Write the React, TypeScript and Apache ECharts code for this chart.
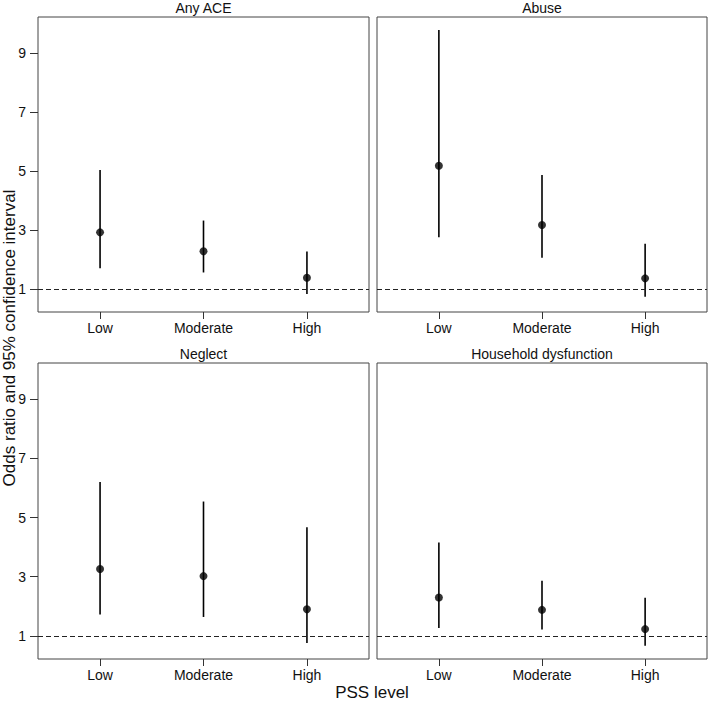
import React, { useEffect, useRef } from "react";
import * as echarts from "echarts";

const categories = ["Low", "Moderate", "High"];
const panelTitles = ["Any ACE", "Abuse", "Neglect", "Household dysfunction"];

const anyAceOR = [2.92, 2.28, 1.38];
const anyAceLower = [1.7, 1.56, 0.83];
const anyAceUpper = [5.03, 3.32, 2.27];

const abuseOR = [5.18, 3.17, 1.36];
const abuseLower = [2.75, 2.06, 0.74];
const abuseUpper = [9.78, 4.86, 2.53];

const neglectOR = [3.26, 3.02, 1.9];
const neglectLower = [1.72, 1.64, 0.76];
const neglectUpper = [6.2, 5.54, 4.67];

const householdOR = [2.3, 1.88, 1.23];
const householdLower = [1.27, 1.22, 0.67];
const householdUpper = [4.16, 2.86, 2.29];

const yTicks = [1, 3, 5, 7, 9];
const referenceValue = 1;

const panels = [
  { or: anyAceOR, lo: anyAceLower, hi: anyAceUpper },
  { or: abuseOR, lo: abuseLower, hi: abuseUpper },
  { or: neglectOR, lo: neglectLower, hi: neglectUpper },
  { or: householdOR, lo: householdLower, hi: householdUpper },
];

const FONT = "Liberation Sans, Arial, sans-serif";

export default function App() {
  const ref = useRef<HTMLDivElement>(null);
  useEffect(() => {
    if (!ref.current) return;
    const chart = echarts.init(ref.current, null, { renderer: "svg" });
    const grids = [
      { left: 38, top: 17, width: 331, height: 295 },
      { left: 377, top: 17, width: 330, height: 295 },
      { left: 38, top: 363, width: 331, height: 296 },
      { left: 377, top: 363, width: 330, height: 296 },
    ];
    const xTickVals = categories.map((_, i) => i + 1);
    const option: any = {
      animation: false,
      backgroundColor: "#fff",
      grid: grids.map((g) => ({
        ...g,
        show: true,
        borderColor: "#444",
        borderWidth: 1,
        backgroundColor: "transparent",
      })),
      xAxis: grids.map((_, i) => ({
        type: "value",
        gridIndex: i,
        min: 0.4,
        max: 3.6,
        axisLine: { show: false },
        splitLine: { show: false },
        axisTick: {
          show: true,
          customValues: xTickVals,
          length: 7,
          lineStyle: { color: "#333", width: 1 },
        },
        axisLabel: {
          customValues: xTickVals,
          formatter: (v: number) => categories[Math.round(v) - 1] ?? "",
          fontSize: 14,
          fontFamily: FONT,
          color: "#111",
          margin: 9,
        },
      })),
      yAxis: grids.map((_, i) => ({
        type: "value",
        gridIndex: i,
        min: 0.22,
        max: 10.22,
        axisLine: { show: false },
        splitLine: { show: false },
        axisTick: {
          show: i % 2 === 0,
          customValues: yTicks,
          length: 8,
          lineStyle: { color: "#333", width: 1 },
        },
        axisLabel: {
          show: i % 2 === 0,
          customValues: yTicks,
          fontSize: 14,
          fontFamily: FONT,
          color: "#111",
          margin: 12,
        },
      })),
      series: panels.flatMap((p, i) => [
        {
          type: "custom",
          xAxisIndex: i,
          yAxisIndex: i,
          data: categories.map((_, k) => [k + 1, p.lo[k], p.hi[k]]),
          encode: { x: 0, y: [1, 2] },
          renderItem: (params: any, api: any) => {
            const x = api.value(0);
            const a = api.coord([x, api.value(1)]);
            const b = api.coord([x, api.value(2)]);
            return {
              type: "line",
              shape: { x1: a[0], y1: a[1], x2: b[0], y2: b[1] },
              style: { stroke: "#000", lineWidth: 1.6 },
            };
          },
          silent: true,
          z: 3,
        },
        {
          type: "scatter",
          xAxisIndex: i,
          yAxisIndex: i,
          data: categories.map((_, k) => [k + 1, p.or[k]]),
          symbol: "circle",
          symbolSize: 8,
          itemStyle: { color: "#000" },
          silent: true,
          z: 4,
          markLine: {
            silent: true,
            symbol: "none",
            label: { show: false },
            lineStyle: { color: "#222", type: [5, 3], width: 1.2 },
            data: [{ yAxis: referenceValue }],
          },
        },
      ]),
      graphic: [
        ...panelTitles.map((t, i) => ({
          type: "text",
          x: grids[i].left + grids[i].width / 2,
          y: grids[i].top - 9,
          style: {
            text: t,
            font: `14px ${FONT}`,
            fill: "#111",
            align: "center",
            verticalAlign: "middle",
          },
        })),
        {
          type: "text",
          x: 9,
          y: 338,
          rotation: Math.PI / 2,
          style: {
            text: "Odds ratio and 95% confidence interval",
            font: `17px ${FONT}`,
            fill: "#111",
            align: "center",
            verticalAlign: "middle",
          },
        },
        {
          type: "text",
          x: 372,
          y: 692,
          style: {
            text: "PSS level",
            font: `17px ${FONT}`,
            fill: "#111",
            align: "center",
            verticalAlign: "middle",
          },
        },
      ],
    };
    chart.setOption(option);
    return () => chart.dispose();
  }, []);
  return (
    <div
      ref={ref}
      style={{ position: "fixed", left: 0, top: 0, width: 708, height: 701 }}
    />
  );
}
